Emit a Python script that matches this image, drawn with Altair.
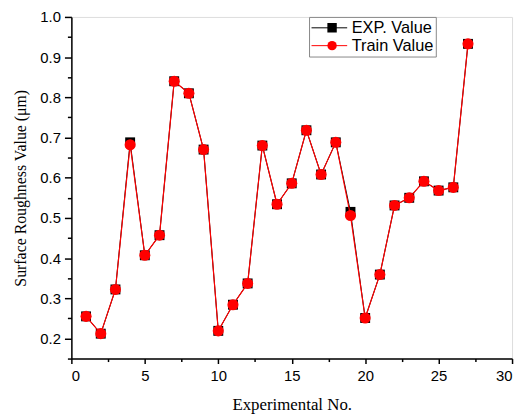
import altair as alt
import pandas as pd

exp_no = list(range(1, 28))
exp_values = [0.255, 0.212, 0.322, 0.688, 0.407, 0.457, 0.840, 0.810, 0.670,
              0.219, 0.284, 0.337, 0.680, 0.534, 0.586, 0.718, 0.608, 0.688,
              0.515, 0.251, 0.359, 0.531, 0.550, 0.591, 0.568, 0.576, 0.933]
train_values = [0.255, 0.212, 0.322, 0.682, 0.407, 0.457, 0.840, 0.810, 0.670,
                0.219, 0.284, 0.337, 0.680, 0.534, 0.586, 0.718, 0.608, 0.688,
                0.506, 0.251, 0.359, 0.531, 0.550, 0.591, 0.568, 0.576, 0.933]
series_names = ["EXP. Value", "Train Value"]
series_colors = ["#000000", "#ff0000"]
series_shapes = ["square", "circle"]
x_ticks = [0, 5, 10, 15, 20, 25, 30]
x_minor = [2.5, 7.5, 12.5, 17.5, 22.5, 27.5]
y_ticks = [0.2, 0.3, 0.4, 0.5, 0.6, 0.7, 0.8, 0.9, 1.0]
y_minor = [0.15, 0.25, 0.35, 0.45, 0.55, 0.65, 0.75, 0.85, 0.95]

df = pd.DataFrame({
    "no": exp_no * 2,
    "value": exp_values + train_values,
    "series": [series_names[0]] * 27 + [series_names[1]] * 27,
})
df["s2"] = df["series"]

xscale = alt.Scale(domain=[0, 30], nice=False, zero=False)
yscale = alt.Scale(domain=[0.15, 1.0], nice=False, zero=False)
shape_scale = alt.Scale(domain=series_names, range=series_shapes)

x_main = alt.X("no:Q", scale=xscale, title="Experimental No.",
               axis=alt.Axis(values=x_ticks, format="d", grid=False, tickSize=5,
                             tickColor="black", domainColor="black", domainWidth=1.5,
                             tickWidth=1.5, labelFont="Liberation Sans", labelFontSize=15,
                             labelColor="black", titleFont="Liberation Serif",
                             titleFontSize=17, titleFontWeight="normal", titleColor="black",
                             labelPadding=5, titlePadding=13))
y_main = alt.Y("value:Q", scale=yscale, title="Surface Roughness Value (μm)",
               axis=alt.Axis(values=y_ticks, format=".1f", grid=False, tickSize=7,
                             tickColor="black", domainColor="black", domainWidth=1.5,
                             tickWidth=1.5, labelFont="Liberation Sans", labelFontSize=15,
                             labelColor="black", titleFont="Liberation Serif",
                             titleFontSize=16, titleFontWeight="normal", titleColor="black",
                             labelPadding=4, titlePadding=11))
x_plain = alt.X("no:Q", scale=xscale, axis=None)
y_plain = alt.Y("value:Q", scale=yscale, axis=None)

base = alt.Chart(df)

common = dict(title=None, orient="none", legendX=240, legendY=0,
              labelFont="Liberation Sans", labelFontSize=16.5, labelColor="black",
              padding=2, rowPadding=0, clipHeight=18)

legend_lines = base.mark_point(filled=False, size=1, opacity=1, strokeWidth=1).encode(
    x=x_plain, y=y_plain,
    color=alt.Color("series:N", scale=alt.Scale(domain=series_names, range=series_colors),
                    legend=alt.Legend(symbolType="stroke", symbolSize=1296, symbolStrokeWidth=1,
                                      symbolOffset=0, labelOffset=4,
                                      strokeColor="#888888", fillColor="white", **common)),
)
marks_legend = alt.Legend(symbolSize=90, symbolOffset=13, labelOffset=17.5,
                          labelOpacity=0, **common)
legend_marks = base.mark_point(filled=True, size=1, opacity=1).encode(
    x=x_plain, y=y_plain,
    color=alt.Color("s2:N", scale=alt.Scale(domain=series_names, range=series_colors),
                    legend=marks_legend),
    shape=alt.Shape("s2:N", scale=shape_scale, legend=marks_legend),
)

exp_line = base.transform_filter(alt.datum.series == series_names[0]).mark_line(
    strokeWidth=1, color="black").encode(x=x_main, y=y_main)

exp_pts = base.transform_filter(alt.datum.series == series_names[0]).mark_point(
    filled=True, opacity=1, shape="square", size=100, color="black"
).encode(x=x_plain, y=y_plain)

train_line = base.transform_filter(alt.datum.series == series_names[1]).mark_line(
    strokeWidth=1.2, color="red").encode(x=x_plain, y=y_plain)

train_pts = base.transform_filter(alt.datum.series == series_names[1]).mark_point(
    filled=True, opacity=1, shape="circle", size=125, color="red"
).encode(x=x_plain, y=y_plain)

minor = base.mark_point(opacity=0).encode(
    x=alt.X("no:Q", scale=xscale, axis=alt.Axis(orient="bottom", values=x_minor, labels=False,
            title=None, domain=False, grid=False, tickSize=3, tickWidth=1.5, tickColor="black")),
    y=alt.Y("value:Q", scale=yscale, axis=alt.Axis(orient="left", values=y_minor, labels=False,
            title=None, domain=False, grid=False, tickSize=4, tickWidth=1.5, tickColor="black")),
)

chart = alt.layer(legend_lines, legend_marks, exp_line, exp_pts, train_line, train_pts, minor).resolve_axis(
    x="independent", y="independent"
).resolve_scale(color="independent", shape="independent").properties(
    width=445, height=345, padding={"top": 0, "left": 5, "right": 5, "bottom": 5}
).configure_view(
    stroke="black", strokeWidth=1.5
).configure(background="white")

chart.save("out.html", embed_options={"renderer": "svg", "actions": False})
